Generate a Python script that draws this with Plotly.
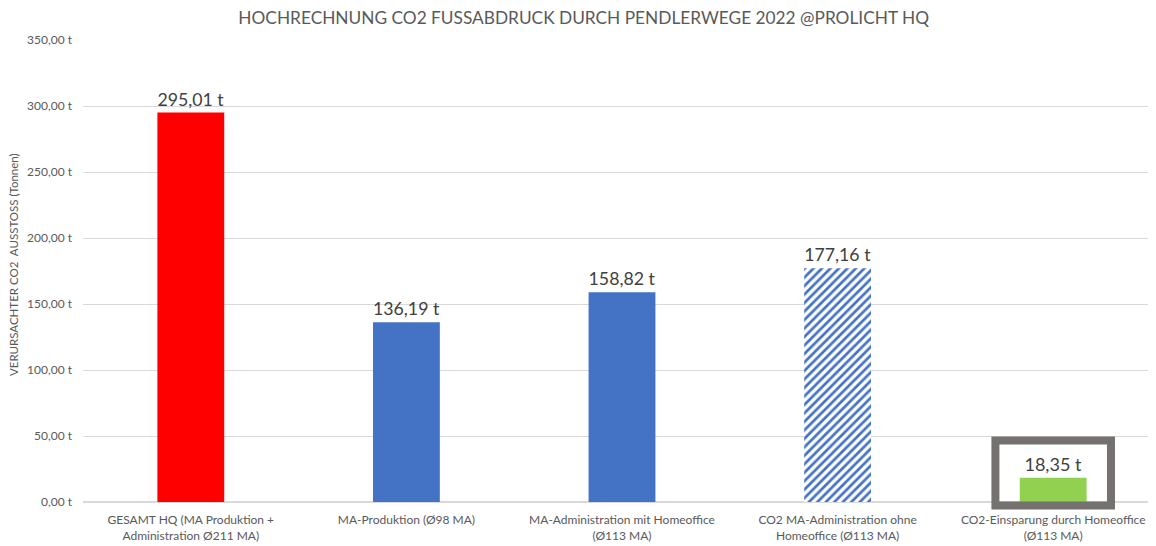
import plotly.graph_objects as go

categories = [
    "GESAMT HQ (MA Produktion +<br>Administration Ø211 MA)",
    "MA-Produktion (Ø98 MA)",
    "MA-Administration mit Homeoffice<br>(Ø113 MA)",
    "CO2 MA-Administration ohne<br>Homeoffice (Ø113 MA)",
    "CO2-Einsparung durch Homeoffice<br>(Ø113 MA)",
]
values = [295.01, 136.19, 158.82, 177.16, 18.35]
bar_colors = ["#FF0000", "#4472C4", "#4472C4", "#FFFFFF", "#92D050"]
hatched = [False, False, False, True, False]
y_ticks = [0, 50, 100, 150, 200, 250, 300, 350]
y_tick_labels = [f"{v:.2f}".replace(".", ",") + " t" for v in y_ticks]

FONT = "Lato"
GREY = "#595959"
Y_MAX = 350

solid_vals = [None if h else v for v, h in zip(values, hatched)]
hatch_vals = [v if h else None for v, h in zip(values, hatched)]

common = dict(
    texttemplate="%{y:.2f} t",
    textposition="outside",
    textfont=dict(family=FONT, size=18, color="#404040"),
    cliponaxis=False,
    hoverinfo="skip",
)

fig = go.Figure()
fig.add_trace(go.Bar(
    x=categories, y=solid_vals,
    marker=dict(color=bar_colors, line=dict(width=0)),
    **common,
))
fig.add_trace(go.Bar(
    x=categories, y=hatch_vals,
    marker=dict(color="#FFFFFF", line=dict(width=0),
                pattern=dict(shape="/", fgcolor="#4472C4", bgcolor="#FFFFFF",
                             size=6, solidity=0.45, fillmode="replace")),
    **common,
))

# highlight box around the savings bar (paper y so it can extend below the baseline)
fig.add_shape(type="rect", xref="x", yref="paper",
              x0=4 - 0.268, x1=4 + 0.268, y0=-2.65 / Y_MAX, y1=46.6 / Y_MAX,
              line=dict(color="#767171", width=8), fillcolor="rgba(0,0,0,0)", layer="above")

fig.add_annotation(text="VERURSACHTER CO2  AUSSTOSS (Tonnen)", textangle=-90,
                   xref="paper", yref="paper", x=-0.064, y=0.513,
                   xanchor="center", yanchor="middle", showarrow=False,
                   font=dict(family=FONT, size=11.5, color=GREY))

fig.update_layout(
    width=1156, height=546,
    separators=",.",
    paper_bgcolor="white", plot_bgcolor="white",
    margin=dict(l=75, r=3, t=32, b=52),
    barmode="overlay",
    bargap=0.69,
    showlegend=False,
    title=dict(text="HOCHRECHNUNG CO2 FUSSABDRUCK DURCH PENDLERWEGE 2022 @PROLICHT HQ",
               x=0.498, xanchor="center", y=0.982, yanchor="middle",
               font=dict(family=FONT, size=17.3, color=GREY)),
    font=dict(family=FONT, color=GREY),
)
fig.update_yaxes(
    range=[0, Y_MAX], tickvals=y_ticks, ticktext=y_tick_labels,
    showgrid=True, gridcolor="#D9D9D9", gridwidth=1, zeroline=True, zerolinecolor="#D9D9D9",
    tickfont=dict(family=FONT, size=12, color=GREY), ticks="", ticklabelstandoff=10,
)
fig.update_xaxes(
    tickfont=dict(family=FONT, size=12, color=GREY), ticks="", showline=False,
    tickangle=0, ticklabelstandoff=9,
)

fig.write_html("out.html")
